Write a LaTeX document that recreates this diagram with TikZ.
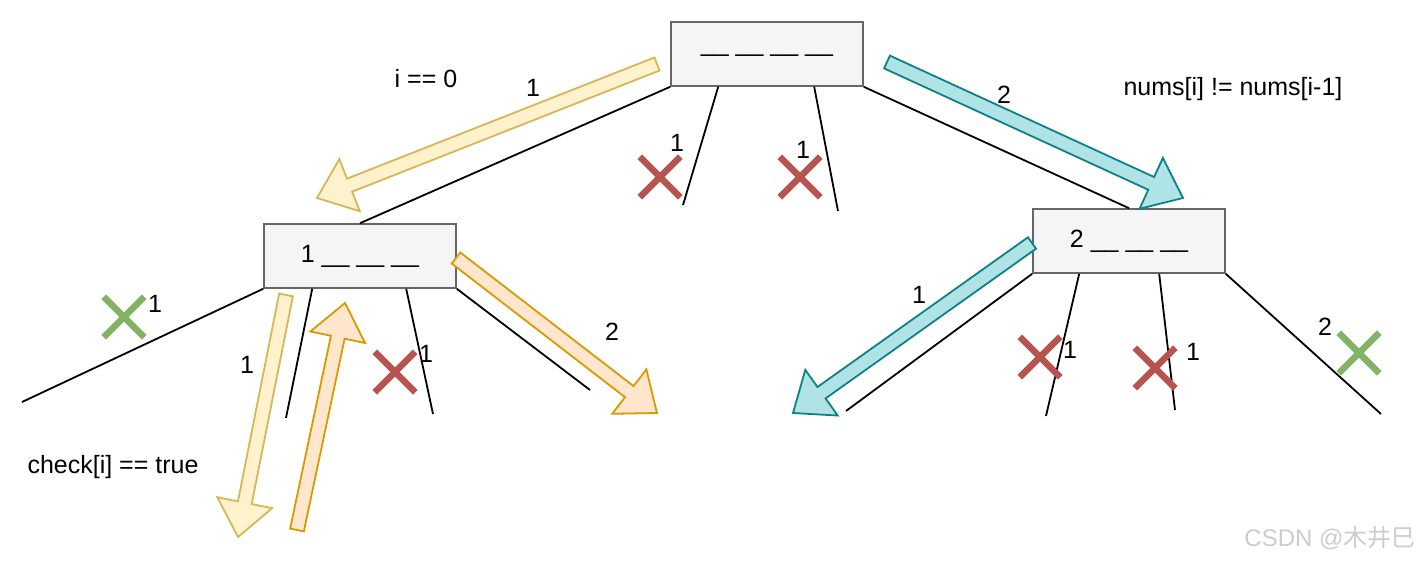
\documentclass[tikz,border=0pt]{standalone}
\usepackage{fontspec}
\setmainfont{Liberation Sans}
\newfontfamily\cjkfont{Noto Sans CJK SC}
\usetikzlibrary{calc,shapes.misc}
\definecolor{boxFill}{HTML}{F5F5F5}
\definecolor{boxLine}{HTML}{666666}
\definecolor{noRed}{HTML}{B85450}
\definecolor{yesGreen}{HTML}{82B366}
\definecolor{yellowFill}{HTML}{FFF2CC}
\definecolor{yellowLine}{HTML}{D6B656}
\definecolor{orangeFill}{HTML}{FFE6CC}
\definecolor{orangeLine}{HTML}{D79B00}
\definecolor{tealFill}{HTML}{B0E3E6}
\definecolor{tealLine}{HTML}{0E8088}
\tikzset{
	permBox/.style={
		draw=boxLine,
		fill=boxFill,
		line width=1.6pt,
		minimum width=192pt,
		minimum height=64pt,
		inner sep=0pt,
		font=\fontsize{25}{30}\selectfont
	},
	permEdge/.style={line width=1.8pt},
	permLabel/.style={font=\fontsize{25}{30}\selectfont, inner sep=0pt},
	permNo/.style={cross out, draw=noRed, line width=6.5pt, minimum size=34pt, inner sep=0pt},
	permYes/.style={permNo, draw=yesGreen},
	permYellow/.style={fill=yellowFill, draw=yellowLine, line width=1.8pt},
	permOrange/.style={fill=orangeFill, draw=orangeLine, line width=1.8pt},
	permTeal/.style={fill=tealFill, draw=tealLine, line width=1.8pt}
}
% block arrow from tail #2 to tip #3
\newcommand{\permArrow}[3]{%
	\coordinate (#2-base) at ($(#3)!35pt!(#2)$);
	\draw[#1] ($(#2)!7pt!90:(#3)$) -- ($(#2-base)!7pt!90:(#3)$)
		-- ($(#2-base)!28pt!90:(#3)$) -- (#3)
		-- ($(#2-base)!28pt!-90:(#3)$) -- ($(#2-base)!7pt!-90:(#3)$)
		-- ($(#2)!7pt!-90:(#3)$) -- cycle;
}

\begin{document}
\begin{tikzpicture}[x=1pt, y=-1pt]

	\useasboundingbox (0,0) rectangle (1425,563);

	% Boxes
	\node[permBox] (root) at (767,54) {\_\_ \_\_ \_\_ \_\_};
	\node[permBox] (lbox) at (360,256) {1 \_\_ \_\_ \_\_};
	\node[permBox] (rbox) at (1129,241) {2 \_\_ \_\_ \_\_};

	% Branch ends
	\coordinate (r1) at (683,205);
	\coordinate (r2) at (838,211);
	\coordinate (l1) at (22,402);
	\coordinate (l2) at (286,418);
	\coordinate (l3) at (433,414);
	\coordinate (l4) at (590,390);
	\coordinate (q1) at (846,411);
	\coordinate (q2) at (1046,416);
	\coordinate (q3) at (1175,410);
	\coordinate (q4) at (1381,414);

	% Branches
	\draw[permEdge] (root.south west) -- (lbox.north);
	\draw[permEdge] ($(root.south west)+(48,0)$) -- (r1);
	\draw[permEdge] ($(root.south west)+(144,0)$) -- (r2);
	\draw[permEdge] (root.south east) -- (rbox.north);

	\draw[permEdge] (lbox.south west) -- (l1);
	\draw[permEdge] ($(lbox.south west)+(49,0)$) -- (l2);
	\draw[permEdge] ($(lbox.south west)+(143,0)$) -- (l3);
	\draw[permEdge] (lbox.south east) -- (l4);

	\draw[permEdge] (rbox.south west) -- (q1);
	\draw[permEdge] ($(rbox.south west)+(47,0)$) -- (q2);
	\draw[permEdge] ($(rbox.south west)+(127,0)$) -- (q3);
	\draw[permEdge] (rbox.south east) -- (q4);

	% Search arrows
	\coordinate (a1) at (657,64);   \coordinate (a1t) at (317,198);
	\coordinate (a2) at (887,62);   \coordinate (a2t) at (1183,198);
	\coordinate (a3) at (286,295);  \coordinate (a3t) at (238,537);
	\coordinate (a4) at (297,530);  \coordinate (a4t) at (345,303);
	\coordinate (a5) at (456,258);  \coordinate (a5t) at (657,413);
	\coordinate (a6) at (1032,243); \coordinate (a6t) at (793,413);
	\permArrow{permYellow}{a1}{a1t}
	\permArrow{permTeal}{a2}{a2t}
	\permArrow{permYellow}{a3}{a3t}
	\permArrow{permOrange}{a4}{a4t}
	\permArrow{permOrange}{a5}{a5t}
	\permArrow{permTeal}{a6}{a6t}

	% Pruned and kept
	\node[permNo] (x1) at (660,177) {};
	\node[permNo] (x2) at (800,177) {};
	\node[permNo] (x3) at (395,372) {};
	\node[permNo] (x4) at (1040,357) {};
	\node[permNo] (x5) at (1155,368) {};
	\node[permYes] (v1) at (124,317) {};
	\node[permYes] (v2) at (1359,353) {};

	% Labels
	\node[permLabel] (cond0) at (426,79) {i == 0};
	\node[permLabel] (condn) at (1233,89) {nums[i] != nums[i-1]};
	\node[permLabel] (condc) at (113,467) {check[i] == true};
	\node[permLabel] (n1) at (533,88) {1};
	\node[permLabel] (n2) at (1004,95) {2};
	\node[permLabel] (n3) at (677,143) {1};
	\node[permLabel] (n4) at (803,150) {1};
	\node[permLabel] (n5) at (155,304) {1};
	\node[permLabel] (n6) at (247,365) {1};
	\node[permLabel] (n7) at (426,354) {1};
	\node[permLabel] (n8) at (612,332) {2};
	\node[permLabel] (n9) at (919,295) {1};
	\node[permLabel] (n10) at (1070,350) {1};
	\node[permLabel] (n11) at (1193,352) {1};
	\node[permLabel] (n12) at (1325,327) {2};

	\node[font=\fontsize{24}{28}\selectfont, text=gray!40, anchor=east] (mark) at (1419,538) {CSDN @{\cjkfont 木井巳}};

\end{tikzpicture}
\end{document}
